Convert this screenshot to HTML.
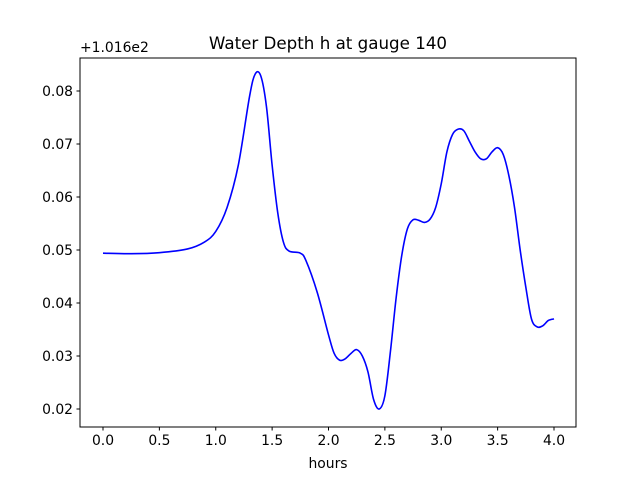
<!DOCTYPE html>
<html><head><meta charset="utf-8"><style>
body{margin:0;background:#fff;}
svg text{font-family:"DejaVu Sans","Liberation Sans",sans-serif;fill:#000;}
</style></head><body>
<svg id="chart" width="640" height="480" xmlns="http://www.w3.org/2000/svg">
<rect width="640" height="480" fill="#fff"/>
<text x="328" y="49" font-size="16.7" text-anchor="middle">Water Depth h at gauge 140</text>
<text x="80" y="52" font-size="13.9">+1.016e2</text>
<g id="ticks"></g>
<path id="line" fill="none" stroke="#0000ff" stroke-width="1.6"/>
<rect x="80" y="58" width="496" height="369" fill="none" stroke="#000" stroke-width="1"/>
<text x="328" y="468" font-size="13.9" text-anchor="middle">hours</text>
</svg>
<script>
const hours=[0,0.25,0.5,0.75,0.9,1.0,1.1,1.2,1.3,1.35,1.4,1.45,1.5,1.55,1.6,1.65,1.75,1.8,1.9,2.0,2.05,2.1,2.15,2.2,2.25,2.3,2.35,2.4,2.45,2.5,2.55,2.6,2.65,2.7,2.75,2.8,2.85,2.9,2.95,3.0,3.05,3.1,3.15,3.2,3.25,3.3,3.35,3.4,3.45,3.5,3.55,3.6,3.65,3.7,3.75,3.8,3.85,3.9,3.95,4.0];
const depth=[0.0494,0.0493,0.0495,0.0502,0.0515,0.0535,0.058,0.066,0.079,0.0832,0.0828,0.077,0.066,0.057,0.0515,0.0498,0.0494,0.048,0.042,0.034,0.0305,0.0292,0.0295,0.0305,0.0312,0.030,0.027,0.0218,0.020,0.0225,0.031,0.041,0.049,0.054,0.0557,0.0556,0.0552,0.0558,0.058,0.0625,0.0685,0.0718,0.0728,0.0725,0.0705,0.0685,0.0672,0.0672,0.0685,0.0693,0.068,0.064,0.058,0.050,0.043,0.037,0.0355,0.0357,0.0367,0.037];
const xTicks=[0,0.5,1,1.5,2,2.5,3,3.5,4];
const xTickLabels=["0.0","0.5","1.0","1.5","2.0","2.5","3.0","3.5","4.0"];
const yTicks=[0.02,0.03,0.04,0.05,0.06,0.07,0.08];
const yTickLabels=["0.02","0.03","0.04","0.05","0.06","0.07","0.08"];
const X=v=>103+v*112.75;
const Y=v=>409-(v-0.02)*5300;
const ns="http://www.w3.org/2000/svg";
const g=document.getElementById('ticks');
function mk(tag,attrs,txt){const e=document.createElementNS(ns,tag);for(const k in attrs)e.setAttribute(k,attrs[k]);if(txt)e.textContent=txt;g.appendChild(e);return e;}
xTicks.forEach((t,i)=>{const x=X(t);
 const l=mk('line',{x1:x,x2:x,y1:427,y2:430.5,stroke:'#000'});
 
 
 const s=mk('text',{x:x,y:445,'font-size':13.9,'text-anchor':'middle'},xTickLabels[i]);
 
 });
yTicks.forEach((t,i)=>{const y=Y(t);
 const l=mk('line',{x1:76.5,x2:80,y1:y,y2:y,stroke:'#000'});
 
 
 const s=mk('text',{x:73,y:y+5,'font-size':13.9,'text-anchor':'end'},yTickLabels[i]);
 
 });
const P=hours.map((h,i)=>[X(h),Y(depth[i])]);
let d='M'+P[0][0]+','+P[0][1];
for(let i=0;i<P.length-1;i++){const p0=P[Math.max(i-1,0)],p1=P[i],p2=P[i+1],p3=P[Math.min(i+2,P.length-1)];
 const c1=[p1[0]+(p2[0]-p0[0])/6,p1[1]+(p2[1]-p0[1])/6],c2=[p2[0]-(p3[0]-p1[0])/6,p2[1]-(p3[1]-p1[1])/6];
 d+=' C'+c1+' '+c2+' '+p2;}
document.getElementById('line').setAttribute('d',d);
</script>
</body></html>
